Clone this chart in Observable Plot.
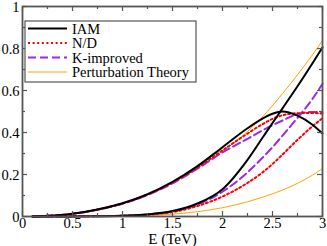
<!DOCTYPE html>
<html>
<head>
<meta charset="utf-8">
<script src="https://cdn.jsdelivr.net/npm/d3@7"></script>
<script src="https://cdn.jsdelivr.net/npm/@observablehq/plot@0.6"></script>
<style>
  html, body { margin: 0; padding: 0; background: #fff; }
  #chart { width: 327px; height: 246px; }
</style>
</head>
<body>
<div id="chart"></div>
<script>
// Energy grid (TeV)
const energy = [0.1, 0.25, 0.5, 0.75, 1, 1.25, 1.5, 1.75, 2, 2.25, 2.4, 2.5, 2.6, 2.75, 2.9, 3];

// Upper channel
const iamUpper = [0.0005, 0.003, 0.013, 0.033, 0.063, 0.106, 0.165, 0.24, 0.33, 0.42, 0.466, 0.489, 0.5, 0.48, 0.437, 0.395];
const ndUpper  = [0.0005, 0.003, 0.013, 0.033, 0.062, 0.104, 0.162, 0.233, 0.315, 0.395, 0.44, 0.465, 0.482, 0.492, 0.493, 0.49];
const kUpper   = [0.0005, 0.003, 0.013, 0.032, 0.061, 0.102, 0.158, 0.228, 0.305, 0.37, 0.41, 0.435, 0.457, 0.488, 0.498, 0.498];
const ptUpper  = [0.0005, 0.003, 0.013, 0.033, 0.063, 0.104, 0.16, 0.23, 0.31, 0.405, 0.475, 0.528, 0.585, 0.675, 0.77, 0.838];

// Lower channel
const iamLower = [0, 0, 0.0005, 0.0015, 0.004, 0.01, 0.026, 0.062, 0.13, 0.27, 0.375, 0.445, 0.515, 0.62, 0.73, 0.805];
const ndLower  = [0, 0, 0.0005, 0.0015, 0.0035, 0.009, 0.021, 0.05, 0.095, 0.16, 0.21, 0.25, 0.295, 0.365, 0.43, 0.468];
const kLower   = [0, 0, 0.0005, 0.0015, 0.004, 0.01, 0.024, 0.057, 0.118, 0.21, 0.28, 0.33, 0.385, 0.47, 0.56, 0.632];
const ptLower  = [0, 0, 0, 0.0005, 0.002, 0.005, 0.011, 0.023, 0.042, 0.07, 0.092, 0.108, 0.126, 0.158, 0.197, 0.228];

// Ticks
const xMajor = [0, 0.5, 1, 1.5, 2, 2.5, 3];
const xMinor = [0.25, 0.75, 1.25, 1.75, 2.25, 2.75];
const yMajor = [0, 0.2, 0.4, 0.6, 0.8, 1];
const yMinor = [0.1, 0.3, 0.5, 0.7, 0.9];

const seriesNames = ["IAM", "N/D", "K-improved", "Perturbation Theory"];
const xLabel = "E (TeV)";

const styles = {
  "IAM": {stroke: "#000000", strokeWidth: 2},
  "N/D": {stroke: "#ff0000", strokeWidth: 2, strokeDasharray: "2,2.6"},
  "K-improved": {stroke: "#9a2be2", strokeWidth: 2, strokeDasharray: "8,4"},
  "Perturbation Theory": {stroke: "#ffa500", strokeWidth: 1}
};

const toRows = (vals) => energy.map((e, i) => ({e, v: vals[i]}));
const curves = [
  ["IAM", iamUpper], ["IAM", iamLower],
  ["N/D", ndUpper], ["N/D", ndLower],
  ["K-improved", kUpper], ["K-improved", kLower],
  ["Perturbation Theory", ptUpper], ["Perturbation Theory", ptLower]
];
const order = ["Perturbation Theory", "K-improved", "N/D", "IAM"];

const W = 327, H = 246;
const mt = 6, mr = 5, mb = 30, ml = 22;
const ph = H - mt - mb, pw = W - ml - mr;
const axisColor = "#555";
const font = "'Liberation Serif', 'Times New Roman', serif";

const lineMarks = [];
for (const name of order) {
  for (const [n, vals] of curves) {
    if (n !== name) continue;
    lineMarks.push(Plot.line(toRows(vals), {x: "e", y: "v", curve: "monotone-x", ...styles[name]}));
  }
}

const plot = Plot.plot({
  width: W, height: H,
  marginTop: mt, marginRight: mr, marginBottom: mb, marginLeft: ml,
  style: {fontFamily: font, fontSize: "14.5px", background: "#fff", color: "#000", overflow: "visible"},
  x: {domain: [0, 3]},
  y: {domain: [0, 1]},
  marks: [
    ...lineMarks,
    Plot.tickX(xMajor, {x: d => d, insetTop: ph - 5, stroke: axisColor, strokeWidth: 1.2}),
    Plot.tickX(xMinor, {x: d => d, insetTop: ph - 3, stroke: axisColor, strokeWidth: 1.2}),
    Plot.tickX(xMajor, {x: d => d, insetBottom: ph - 5, stroke: axisColor, strokeWidth: 1.2}),
    Plot.tickX(xMinor, {x: d => d, insetBottom: ph - 3, stroke: axisColor, strokeWidth: 1.2}),
    Plot.tickY(yMajor, {y: d => d, insetRight: pw - 5, stroke: axisColor, strokeWidth: 1.2}),
    Plot.tickY(yMinor, {y: d => d, insetRight: pw - 3, stroke: axisColor, strokeWidth: 1.2}),
    Plot.tickY(yMajor, {y: d => d, insetLeft: pw - 5, stroke: axisColor, strokeWidth: 1.2}),
    Plot.tickY(yMinor, {y: d => d, insetLeft: pw - 3, stroke: axisColor, strokeWidth: 1.2}),
    Plot.frame({stroke: axisColor, strokeWidth: 1.8}),
    Plot.axisX(xMajor, {tickSize: 0, tickPadding: 1, tickFormat: d => String(d), label: null, fill: "#000"}),
    Plot.axisY(yMajor, {tickSize: 0, tickPadding: 3, tickFormat: d => String(d), label: null, fill: "#000", dy: 0.5}),
    Plot.text([xLabel], {frameAnchor: "bottom", lineAnchor: "bottom", dy: 27, fontSize: 15, fill: "#000"})
  ]
});

document.getElementById("chart").appendChild(plot);

// Legend box
const svg = d3.select(plot);
const lg = svg.append("g").attr("transform", "translate(25,21)").attr("text-anchor", "start");
lg.append("rect").attr("x", 0).attr("y", 0).attr("width", 171).attr("height", 61)
  .attr("fill", "#fff").attr("stroke", axisColor).attr("stroke-width", 1.2);
seriesNames.forEach((name, i) => {
  const cy = 7.5 + i * 14.5;
  const s = styles[name];
  lg.append("line").attr("x1", 3).attr("x2", 42).attr("y1", cy).attr("y2", cy)
    .attr("stroke", s.stroke).attr("stroke-width", s.strokeWidth)
    .attr("stroke-dasharray", s.strokeDasharray || null);
  lg.append("text").attr("x", 47).attr("y", cy).attr("dy", "0.35em")
    .attr("text-anchor", "start")
    .attr("font-family", font).attr("font-size", 14.5).attr("fill", "#000").text(name);
});
</script>
</body>
</html>
